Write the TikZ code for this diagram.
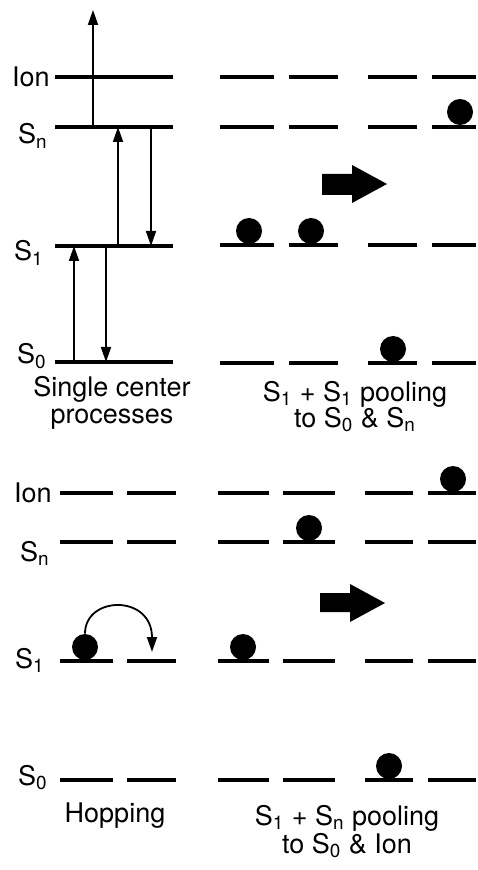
\documentclass[tikz,border=0pt]{standalone}
\usepackage{fontspec}
\setmainfont{TeX Gyre Heros}
\usetikzlibrary{arrows.meta,calc}

\tikzset{
  level/.style={line width=2.4pt},
  trans/.style={line width=0.9pt,-{Triangle[length=7.5pt,width=5pt]}},
  ball/.style={circle,fill=black,inner sep=0pt,minimum size=13pt},
  lbl/.style={anchor=base east,inner sep=0pt},
  capline/.style={anchor=base,inner sep=0pt},
  every node/.style={font=\fontsize{13.5}{16}\selectfont}
}

\begin{document}
\begin{tikzpicture}[x=0.5pt,y=-0.5pt]
	\useasboundingbox (0,0) rectangle (477,870);

	% single center processes
	\foreach \y/\n in {77/ion,127/sn,246/s1,362/s0}
		\draw [level] (55,\y) coordinate (A\n) -- (173,\y);
	\coordinate (top) at (93,10);
	\draw [trans] ($(Asn)+(38,0)$) -- (top);
	\draw [trans] ($(As0)+(19,0)$) -- ($(As1)+(19,0)$);
	\draw [trans] ($(As1)+(51,0)$) -- ($(As0)+(51,0)$);
	\draw [trans] ($(As1)+(63,0)$) -- ($(Asn)+(63,0)$);
	\draw [trans] ($(Asn)+(96,0)$) -- ($(As1)+(96,0)$);
	\node [lbl] (aIon) at (50,87) {Ion};
	\node [lbl] (aSn) at (48,144) {S\textsubscript{n}};
	\node [lbl] (aS1) at (44,261) {S\textsubscript{1}};
	\node [lbl] (aS0) at (47,364) {S\textsubscript{0}};
	\node [capline] (capA1) at (112,397) {Single center};
	\node [capline] (capA2) at (112,423) {processes};

	% S1 + S1 pooling
	\foreach \y in {77,127,245,363}
		\foreach \a/\b in {220/274,289/338,368/417,432/476}
			\draw [level] (\a,\y) -- (\b,\y);
	\node [ball] (pa1) at (249,231) {};
	\node [ball] (pa2) at (311,231) {};
	\node [ball] (pa3) at (460,112) {};
	\node [ball] (pa4) at (393,349) {};
	\fill (322,174) -- (352,174) -- (352,165) -- (387,184) -- (352,203) -- (352,195) -- (322,195) -- cycle;
	\node [capline] (capB1) at (355,401) {S\textsubscript{1} + S\textsubscript{1} pooling};
	\node [capline] (capB2) at (355,427) {to S\textsubscript{0} \& S\textsubscript{n}};

	% hopping
	\foreach \y in {493,542,661,780}
		\foreach \a/\b in {60/113,127/176}
			\draw [level] (\a,\y) -- (\b,\y);
	\node [ball] (hb) at (85,647) {};
	\coordinate (hopend) at (152,652);
	\draw [trans] (hb.north) .. controls +(0,-38) and +(0,-58) .. (hopend);
	\node [lbl] (cIon) at (52,502) {Ion};
	\node [lbl] (cSn) at (50,561) {S\textsubscript{n}};
	\node [lbl] (cS1) at (45,668) {S\textsubscript{1}};
	\node [lbl] (cS0) at (48,785) {S\textsubscript{0}};
	\node [capline] (capC) at (115,822) {Hopping};

	% S1 + Sn pooling
	\foreach \y in {493,542,661,780}
		\foreach \a/\b in {218/269,283/335,365/413,428/476}
			\draw [level] (\a,\y) -- (\b,\y);
	\node [ball] (pb1) at (453,479) {};
	\node [ball] (pb2) at (309,528) {};
	\node [ball] (pb3) at (243,647) {};
	\node [ball] (pb4) at (389,766) {};
	\fill (320,593) -- (350,593) -- (350,584) -- (385,603) -- (350,622) -- (350,612) -- (320,612) -- cycle;
	\node [capline] (capD1) at (347,825) {S\textsubscript{1} + S\textsubscript{n} pooling};
	\node [capline] (capD2) at (347,853) {to S\textsubscript{0} \& Ion};
\end{tikzpicture}
\end{document}
